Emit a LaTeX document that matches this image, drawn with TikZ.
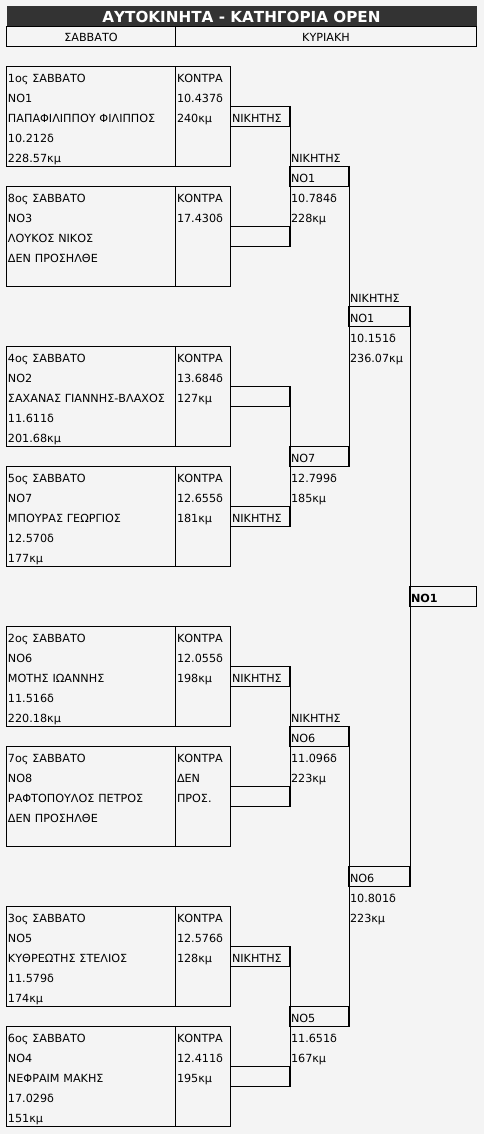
\documentclass[tikz,border=0pt]{standalone}
\definecolor{pagegray}{RGB}{244, 244, 244}
\definecolor{bardark}{RGB}{51, 51, 51}
\usepackage{fontspec}
\setmainfont{DejaVu Sans}
\usepackage{tikz}

\begin{document}
\begin{tikzpicture}[x=1pt, y=-1pt, line width=1pt,
    every node/.style={inner sep=0pt, anchor=north west, font=\fontsize{11.2}{20}\selectfont},
    titlebar/.style={fill=bardark, text=white, minimum width=470pt, minimum height=20pt, text height=16pt, text depth=4pt, font=\bfseries\fontsize{15.2}{16}\selectfont},
    headcell/.style={draw, minimum height=20pt, text height=15pt, text depth=5pt},
    racerbox/.style={draw, inner xsep=1.5pt, text width=166pt, align=left, text height=16pt, text depth=84pt},
    contrabox/.style={racerbox, text width=52pt},
    wincell/.style={draw, inner xsep=1.5pt, text width=56pt, align=left, text height=16pt, text depth=4pt},
    winlabel/.style={wincell, draw=none},
    wininfo/.style={winlabel, text depth=24pt}]

  % Page and title
  \fill[pagegray] (0,0) rectangle (484,1134);
  \node[titlebar] (title) at (6,6) {ΑΥΤΟΚΙΝΗΤΑ - ΚΑΤΗΓΟΡΙΑ OPEN};
  \node[headcell, minimum width=169pt] (sat) at (6,26) {ΣΑΒΒΑΤΟ};
  \node[headcell, minimum width=301pt] (sun) at (175,26) {ΚΥΡΙΑΚΗ};

  % Saturday runs
  \node[racerbox] (m1) at (6,66) {1ος ΣΑΒΒΑΤΟ\\ΝΟ1\\ΠΑΠΑΦΙΛΙΠΠΟΥ ΦΙΛΙΠΠΟΣ\\10.212δ\\228.57κμ};
  \node[contrabox] (k1) at (175,66) {ΚΟΝΤΡΑ\\10.437δ\\240κμ};

  \node[racerbox] (m2) at (6,186) {8ος ΣΑΒΒΑΤΟ\\ΝΟ3\\ΛΟΥΚΟΣ ΝΙΚΟΣ\\ΔΕΝ ΠΡΟΣΗΛΘΕ};
  \node[contrabox] (k2) at (175,186) {ΚΟΝΤΡΑ\\17.430δ};

  \node[racerbox] (m3) at (6,346) {4ος ΣΑΒΒΑΤΟ\\ΝΟ2\\ΣΑΧΑΝΑΣ ΓΙΑΝΝΗΣ-ΒΛΑΧΟΣ\\11.611δ\\201.68κμ};
  \node[contrabox] (k3) at (175,346) {ΚΟΝΤΡΑ\\13.684δ\\127κμ};

  \node[racerbox] (m4) at (6,466) {5ος ΣΑΒΒΑΤΟ\\ΝΟ7\\ΜΠΟΥΡΑΣ ΓΕΩΡΓΙΟΣ\\12.570δ\\177κμ};
  \node[contrabox] (k4) at (175,466) {ΚΟΝΤΡΑ\\12.655δ\\181κμ};

  \node[racerbox] (m5) at (6,626) {2ος ΣΑΒΒΑΤΟ\\ΝΟ6\\ΜΟΤΗΣ ΙΩΑΝΝΗΣ\\11.516δ\\220.18κμ};
  \node[contrabox] (k5) at (175,626) {ΚΟΝΤΡΑ\\12.055δ\\198κμ};

  \node[racerbox] (m6) at (6,746) {7ος ΣΑΒΒΑΤΟ\\ΝΟ8\\ΡΑΦΤΟΠΟΥΛΟΣ ΠΕΤΡΟΣ\\ΔΕΝ ΠΡΟΣΗΛΘΕ};
  \node[contrabox] (k6) at (175,746) {ΚΟΝΤΡΑ\\ΔΕΝ\\ΠΡΟΣ.};

  \node[racerbox] (m7) at (6,906) {3ος ΣΑΒΒΑΤΟ\\ΝΟ5\\ΚΥΘΡΕΩΤΗΣ ΣΤΕΛΙΟΣ\\11.579δ\\174κμ};
  \node[contrabox] (k7) at (175,906) {ΚΟΝΤΡΑ\\12.576δ\\128κμ};

  \node[racerbox] (m8) at (6,1026) {6ος ΣΑΒΒΑΤΟ\\ΝΟ4\\ΝΕΦΡΑΙΜ ΜΑΚΗΣ\\17.029δ\\151κμ};
  \node[contrabox] (k8) at (175,1026) {ΚΟΝΤΡΑ\\12.411δ\\195κμ};

  % Sunday, first round
  \node[wincell] (c1) at (230,106) {ΝΙΚΗΤΗΣ};
  \node[wincell] (c2) at (230,226) {};
  \node[wincell] (c3) at (230,386) {};
  \node[wincell] (c4) at (230,506) {ΝΙΚΗΤΗΣ};
  \node[wincell] (c5) at (230,666) {ΝΙΚΗΤΗΣ};
  \node[wincell] (c6) at (230,786) {};
  \node[wincell] (c7) at (230,946) {ΝΙΚΗΤΗΣ};
  \node[wincell] (c8) at (230,1066) {};
  \draw (c1.north east) -- (c2.south east);
  \draw (c3.north east) -- (c4.south east);
  \draw (c5.north east) -- (c6.south east);
  \draw (c7.north east) -- (c8.south east);

  % Semi-finals
  \node[winlabel] (d1label) at (289,146) {ΝΙΚΗΤΗΣ};
  \node[wincell] (d1) at (289,166) {ΝΟ1};
  \node[wininfo] (d1info) at (289,186) {10.784δ\\228κμ};
  \node[wincell] (d2) at (289,446) {ΝΟ7};
  \node[wininfo] (d2info) at (289,466) {12.799δ\\185κμ};
  \draw (d1.north east) -- (d2.south east);

  \node[winlabel] (d3label) at (289,706) {ΝΙΚΗΤΗΣ};
  \node[wincell] (d3) at (289,726) {ΝΟ6};
  \node[wininfo] (d3info) at (289,746) {11.096δ\\223κμ};
  \node[wincell] (d4) at (289,1006) {ΝΟ5};
  \node[wininfo] (d4info) at (289,1026) {11.651δ\\167κμ};
  \draw (d3.north east) -- (d4.south east);

  % Final
  \node[winlabel, text width=58pt] (e1label) at (348,286) {ΝΙΚΗΤΗΣ};
  \node[wincell, text width=58pt] (e1) at (348,306) {ΝΟ1};
  \node[wininfo, text width=58pt] (e1info) at (348,326) {10.151δ\\236.07κμ};
  \node[wincell, text width=58pt] (e2) at (348,866) {ΝΟ6};
  \node[wininfo, text width=58pt] (e2info) at (348,886) {10.801δ\\223κμ};
  \draw (e1.north east) -- (e2.south east);

  \node[wincell, text width=64pt, font=\bfseries\fontsize{11.2}{20}\selectfont] (champ) at (409,586) {ΝΟ1};
\end{tikzpicture}
\end{document}
